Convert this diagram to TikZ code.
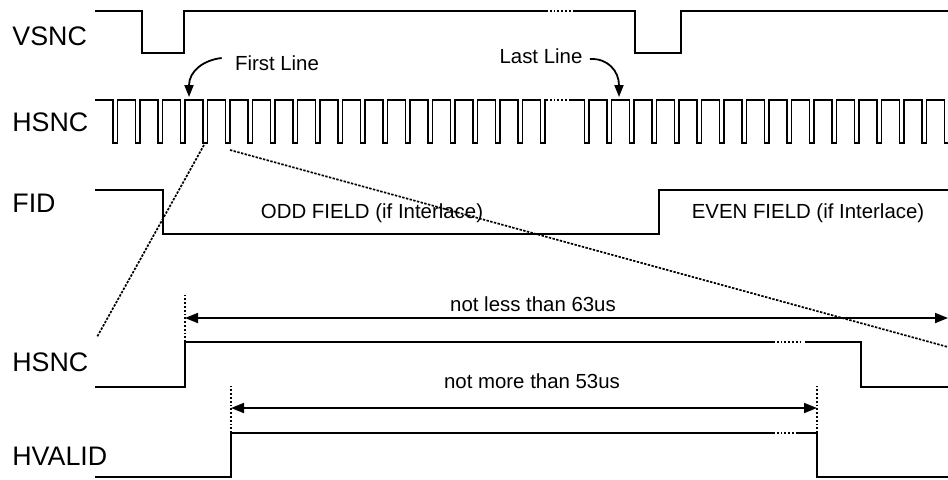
\documentclass[tikz,border=0pt]{standalone}
\usepackage{fontspec}
\setmainfont{Liberation Sans}
\usetikzlibrary{arrows.meta}
\tikzset{%
  % Specifications for style of lines and texts:
            signal/.style = {line width=0.9pt, line join=miter},
            gapLine/.style = {line width=0.9pt, densely dotted},
            sigName/.style = {anchor=west, inner sep=0pt,
                              font=\fontsize{13.4}{16}\selectfont},
            note/.style = {inner sep=0pt, font=\fontsize{10.2}{12}\selectfont},
            dimLine/.style = {line width=0.9pt,
                              {Triangle[length=6.5pt,width=5pt]}-{Triangle[length=6.5pt,width=5pt]}},
            extLine/.style = {line width=0.9pt, densely dotted},
            zoomLine/.style = {line width=0.85pt, dash pattern=on 1.2pt off 0.7pt},
            pointer/.style = {line width=0.9pt, -{Triangle[length=6pt,width=4.5pt]}},
 }

\begin{document}
\begin{tikzpicture}[x=0.5pt, y=-0.5pt]
  \useasboundingbox (0,0) rectangle (948,479);
  % Specification of nodes (position, etc.)
     \node (vsncName) [sigName] at (12,36) {VSNC};
     \node (hsncName) [sigName] at (12,122) {HSNC};
     \node (fidName) [sigName] at (12,203) {FID};
     \node (hsncZoomName) [sigName] at (12,362) {HSNC};
     \node (hvalidName) [sigName] at (12,456) {HVALID};

     \node (firstLine) [note] at (277,63) {First Line};
     \node (lastLine) [note] at (541,56) {Last Line};
     \node (oddField) [note] at (372,213) {ODD FIELD (if Interlace)};
     \node (evenField) [note] at (808,213) {EVEN FIELD (if Interlace)};
     \node (lessTxt) [note] at (533,304) {not less than 63us};
     \node (moreTxt) [note] at (532,381) {not more than 53us};

     \coordinate (firstTip) at (189,97);
     \coordinate (lastTip) at (619,97);
     \coordinate (hsncRise) at (185,342);
     \coordinate (hvalidRise) at (231,433);
     \coordinate (hvalidFall) at (817,433);
     \coordinate (lessEnd) at (948,318);
     \coordinate (pulseA) at (204,145);
     \coordinate (pulseB) at (230,150);
     \coordinate (zoomEndA) at (97,337);
     \coordinate (zoomEndB) at (948,347);

  % Waveforms
     \draw[signal] (95,11) -| (142,53) -| (184,11) -- (546,11);
     \draw[gapLine] (546,11) -- (573,11);
     \draw[signal] (573,11) -| (635,53) -| (681,11) -- (948,11);

     \draw[signal] (95,100) foreach \i in {0,...,19} { -| (113+22.5*\i,143) -| (117.5+22.5*\i,100) } -- (546,100);
     \draw[gapLine] (546,100) -- (570,100);
     \draw[signal] (570,100) foreach \i in {0,...,15} { -| (584.5+22.5*\i,143) -| (589+22.5*\i,100) } -| (944.5,143) -- (948,143);

     \draw[signal] (95,190) -| (163,234) -| (659,190) -- (948,190);

     \draw[signal] (95,387) -| (hsncRise) -- (773,342);
     \draw[gapLine] (773,342) -- (800,342);
     \draw[signal] (805,342) -| (861,387) -- (948,387);

     \draw[signal] (95,477) -| (hvalidRise) -- (773,433);
     \draw[gapLine] (773,433) -- (798,433);
     \draw[signal] (798,433) -| (817,477) -- (948,477);

  % Pointers, zoom lines and dimensions
     \draw[pointer] ([xshift=-6.5pt,yshift=2.5pt]firstLine.west) .. controls +(-9pt,-1pt) and +(0,13pt) .. (firstTip);
     \draw[pointer] ([xshift=3.5pt,yshift=-1.5pt]lastLine.east) .. controls +(9pt,0.5pt) and +(0,13pt) .. (lastTip);

     \draw[zoomLine] (pulseA) -- (zoomEndA);
     \draw[zoomLine] (pulseB) -- (zoomEndB);

     \draw[extLine] (hsncRise) -- ++(0,-47);
     \draw[extLine] (hvalidRise) -- ++(0,-47);
     \draw[extLine] (hvalidFall) -- ++(0,-47);
     \draw[dimLine] ([yshift=12pt]hsncRise) -- (lessEnd);
     \draw[dimLine] ([yshift=12.5pt]hvalidRise) -- ([yshift=12.5pt]hvalidFall);

   \end{tikzpicture}
\end{document}
